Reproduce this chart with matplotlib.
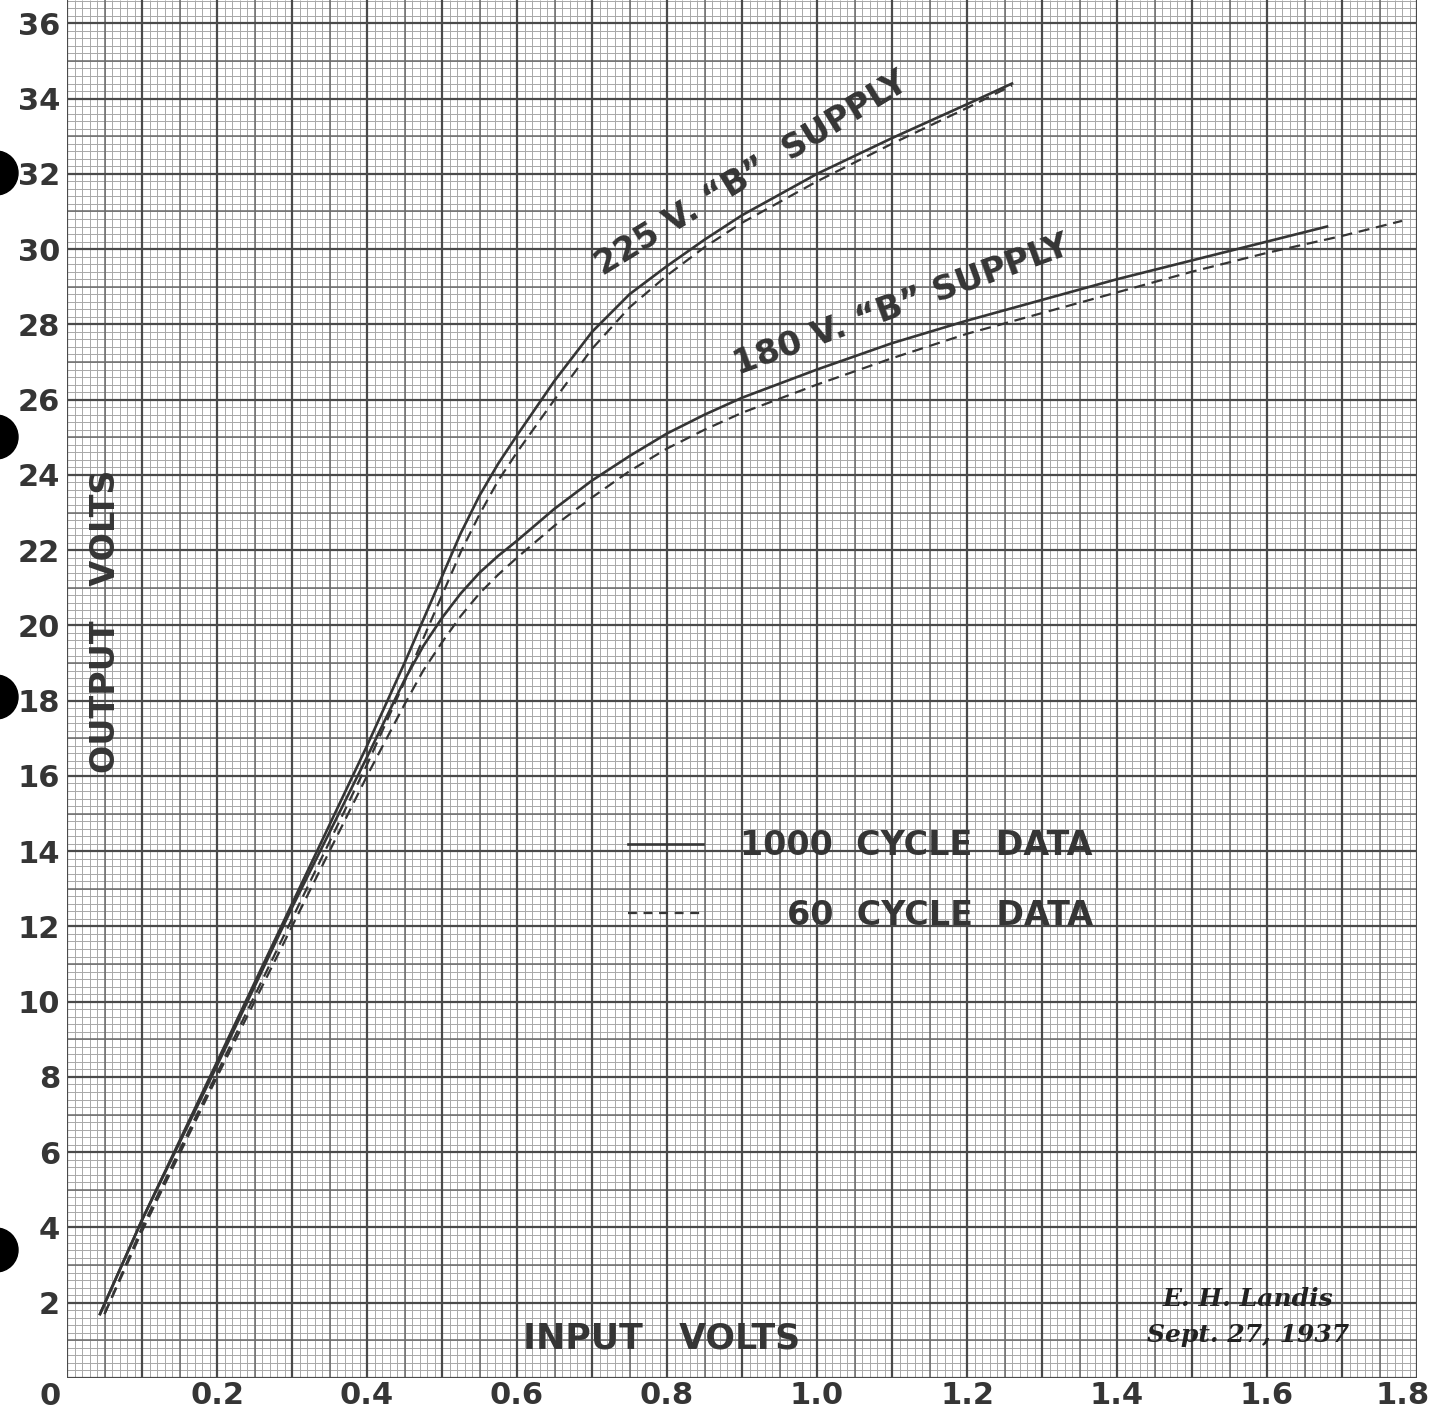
import numpy as np
import matplotlib
matplotlib.use("Agg")
import matplotlib.pyplot as plt
from matplotlib.patches import Circle
from matplotlib.transforms import ScaledTranslation

# readings taken off the graph sheet (input volts -> output volts)
x_225_1000 = [0.044, 0.10, 0.20, 0.30, 0.40, 0.45, 0.50, 0.525, 0.55, 0.575, 0.60, 0.65, 0.70, 0.75,
              0.80, 0.85, 0.90, 0.95, 1.00, 1.10, 1.20, 1.26]
y_225_1000 = [1.7, 4.2, 8.4, 12.6, 16.8, 19.0, 21.3, 22.45, 23.45, 24.3, 25.05, 26.5, 27.8, 28.8,
              29.55, 30.25, 30.9, 31.45, 32.0, 32.95, 33.85, 34.4]

x_225_60 = [0.05, 0.10, 0.20, 0.30, 0.40, 0.45, 0.50, 0.525, 0.55, 0.575, 0.60, 0.65, 0.70, 0.75,
            0.80, 0.85, 0.90, 0.95, 1.00, 1.10, 1.20, 1.26]
y_225_60 = [1.7, 4.0, 8.1, 12.2, 16.3, 18.5, 20.8, 21.95, 22.95, 23.85, 24.6, 26.0, 27.35, 28.45,
            29.3, 30.05, 30.7, 31.25, 31.8, 32.8, 33.75, 34.35]

x_180_1000 = [0.044, 0.10, 0.20, 0.30, 0.40, 0.45, 0.475, 0.50, 0.525, 0.55, 0.575, 0.60, 0.65, 0.70,
              0.75, 0.80, 0.85, 0.90, 1.00, 1.10, 1.20, 1.30, 1.40, 1.50, 1.60, 1.68]
y_180_1000 = [1.7, 4.2, 8.3, 12.5, 16.5, 18.55, 19.45, 20.2, 20.85, 21.4, 21.85, 22.25, 23.1, 23.85,
              24.5, 25.1, 25.6, 26.05, 26.8, 27.5, 28.1, 28.65, 29.2, 29.7, 30.2, 30.6]

x_180_60 = [0.05, 0.10, 0.20, 0.30, 0.40, 0.45, 0.475, 0.50, 0.525, 0.55, 0.575, 0.60, 0.65, 0.70,
            0.75, 0.80, 0.85, 0.90, 1.00, 1.10, 1.20, 1.30, 1.40, 1.50, 1.60, 1.70, 1.78]
y_180_60 = [1.7, 3.9, 8.0, 12.0, 16.0, 17.9, 18.8, 19.55, 20.25, 20.85, 21.35, 21.8, 22.65, 23.4,
            24.1, 24.7, 25.2, 25.65, 26.4, 27.1, 27.75, 28.3, 28.85, 29.4, 29.9, 30.35, 30.75]

x_ticks = [0.2, 0.4, 0.6, 0.8, 1.0, 1.2, 1.4, 1.6, 1.8]
x_ticklabels = ["0.2", "0.4", "0.6", "0.8", "1.0", "1.2", "1.4", "1.6", "1.8"]
y_ticks = list(range(2, 37, 2))

ink = "#353535"
plt.rcParams['font.family'] = ['DejaVu Sans']

fig = plt.figure(figsize=(14.29, 14.10), dpi=100)
fig.patch.set_facecolor("white")
ax = fig.add_axes([67 / 1429, 32 / 1410, 1350 / 1429, 1378 / 1410])
ax.set_xlim(0, 1.8)
ax.set_ylim(0, 36.62)

# graph paper: fine, medium and heavy rulings
fx = np.arange(0, 1.8001, 0.01)
fy = np.arange(0, 36.7, 0.2)
ax.vlines(fx, 0, 36.62, color="#a8a8a8", lw=0.7, zorder=0)
ax.hlines(fy, 0, 1.8, color="#a8a8a8", lw=0.7, zorder=0)
ax.vlines(np.arange(0.05, 1.8, 0.1), 0, 36.62, color="#6a6a6a", lw=1.1, zorder=0.5)
ax.hlines(np.arange(1, 37, 2), 0, 1.8, color="#6a6a6a", lw=1.1, zorder=0.5)
ax.vlines(np.arange(0, 1.8001, 0.1), 0, 36.62, color="#4a4a4a", lw=1.6, zorder=0.6)
ax.hlines(np.arange(0, 37, 2), 0, 1.8, color="#4a4a4a", lw=1.6, zorder=0.6)

for s in ax.spines.values():
    s.set_visible(False)

# curves
ax.plot(x_225_1000, y_225_1000, color=ink, lw=1.9, zorder=3)
ax.plot(x_225_60, y_225_60, color=ink, lw=1.6, ls=(0, (5, 3)), zorder=3)
ax.plot(x_180_1000, y_180_1000, color=ink, lw=1.9, zorder=3)
ax.plot(x_180_60, y_180_60, color=ink, lw=1.6, ls=(0, (5, 3)), zorder=3)

# ticks
ax.set_xticks(x_ticks)
ax.set_xticklabels(x_ticklabels)
ax.set_yticks(y_ticks)
ax.set_yticklabels([str(v) for v in y_ticks])
ax.tick_params(length=0, labelsize=22, labelcolor=ink)
for lab in ax.get_xticklabels() + ax.get_yticklabels():
    lab.set_fontweight("bold")
ax.tick_params(axis="x", pad=2)
ax.tick_params(axis="y", pad=5)
last = ax.get_xticklabels()[-1]
last.set_transform(last.get_transform() + ScaledTranslation(-0.14, 0, fig.dpi_scale_trans))
ax.text(-0.023, -0.1, "0", fontsize=22, color=ink, ha="center", va="top",
        weight="bold", clip_on=False)

# axis titles written on the sheet
ax.text(0.051, 20.1, "OUTPUT   VOLTS", rotation=90, fontsize=24, color=ink,
        ha="center", va="center", weight="bold")
ax.text(0.793, 1.05, "INPUT   VOLTS", fontsize=25, color=ink, ha="center", va="center",
        weight="bold")

# curve labels
ax.text(0.913, 32.0, "225 V. “B”  SUPPLY", rotation=31.5, fontsize=24, color=ink,
        ha="center", va="center", rotation_mode="anchor", weight="bold")
ax.text(1.113, 28.5, "180 V. “B” SUPPLY", rotation=20, fontsize=24.5, color=ink,
        ha="center", va="center", rotation_mode="anchor", weight="bold")

# key
ax.plot([0.748, 0.848], [14.2, 14.2], color=ink, lw=1.9)
ax.plot([0.748, 0.848], [12.35, 12.35], color=ink, lw=1.6, ls=(0, (4, 3)))
ax.text(1.368, 14.15, "1000  CYCLE  DATA", fontsize=24, color=ink, ha="right", va="center",
        weight="bold")
ax.text(1.368, 12.3, "60  CYCLE  DATA", fontsize=24, color=ink, ha="right", va="center",
        weight="bold")

# signature
ax.text(1.575, 2.1, "E. H. Landis", fontsize=18, color="#222222", ha="center", va="center",
        family="DejaVu Serif", style="italic", weight="bold")
ax.text(1.575, 1.15, "Sept. 27, 1937", fontsize=18, color="#222222", ha="center", va="center",
        family="DejaVu Serif", style="italic", weight="bold")

# binder holes on the left edge
for cy in [173, 437, 697, 1250]:
    fig.add_artist(Circle((-0.04, (1410 - cy) / 100), 0.22, transform=fig.dpi_scale_trans,
                          color="black", zorder=10))

fig.savefig("out.png", dpi=100, facecolor="white")
